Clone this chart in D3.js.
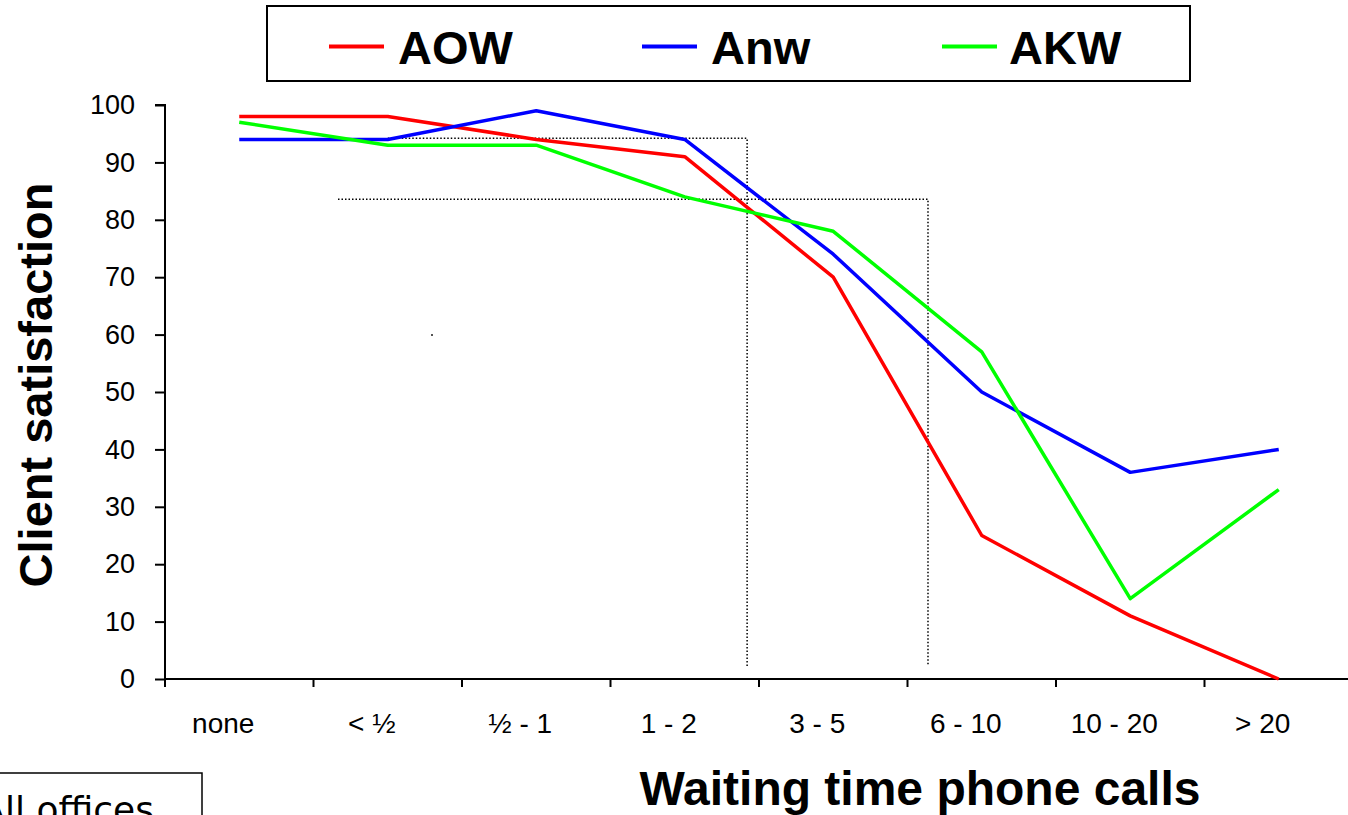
<!DOCTYPE html>
<html>
<head>
<meta charset="utf-8">
<script src="https://cdn.jsdelivr.net/npm/d3@7"></script>
<style>
  body { margin: 0; background: #fff; }
  svg { display: block; font-family: "Liberation Sans", Arial, sans-serif; }
</style>
</head>
<body>
<div id="root"></div>
<script>
// categories (waiting time) and series values
const categories = ["none", "< ½", "½ - 1", "1 - 2", "3 - 5", "6 - 10", "10 - 20", "> 20"];
const aow = [98, 98, 94, 91, 70, 25, 11, 0];
const anw = [94, 94, 99, 94, 74, 50, 36, 40];
const akw = [97, 93, 93, 84, 78, 57, 14, 33];
const seriesNames = ["AOW", "Anw", "AKW"];
const seriesColors = ["#ff0000", "#0000ff", "#00ff00"];
const yTicks = [0, 10, 20, 30, 40, 50, 60, 70, 80, 90, 100];
// dotted guide lines: level, start / end in category units, bottom level
const guideLevels = [94.2, 83.6];
const guideStart = [1.5, 1.165];
const guideEnd = [3.92, 5.138];
const guideBottom = [1.9, 2.4];

const width = 1348, height = 815;

const svg = d3.select("#root").append("svg")
  .attr("width", width)
  .attr("height", height);

const x = d3.scaleBand().domain(categories).range([165, 1353]).padding(0);
const xc = d3.scaleLinear().domain([0, categories.length]).range([165, 1353]);
const y = d3.scaleLinear().domain([0, 100]).range([679, 105]);

// dotted guides
guideLevels.forEach((lv, i) => {
  svg.append("path")
    .attr("d", d3.line()([
      [xc(guideStart[i]), y(lv)],
      [xc(guideEnd[i]), y(lv)],
      [xc(guideEnd[i]), y(guideBottom[i])]
    ]))
    .attr("fill", "none")
    .attr("stroke", "#000")
    .attr("stroke-width", 1.5)
    .attr("stroke-dasharray", "1.5,2");
});

// stray mark seen in the picture
svg.append("rect").attr("x", 431).attr("y", 334).attr("width", 2).attr("height", 2).attr("fill", "#555");

// axes
const yAxis = svg.append("g")
  .attr("transform", "translate(165,0)")
  .call(d3.axisLeft(y).tickValues(yTicks).tickSize(10).tickPadding(20));
yAxis.select(".domain").attr("stroke-width", 2).attr("d", "M-10," + y(100) + "H0V" + y(0));
yAxis.selectAll(".tick line").attr("stroke-width", 2);
yAxis.selectAll(".tick text")
  .attr("font-size", 27)
  .attr("font-family", "Liberation Sans, Arial, sans-serif")
  .attr("fill", "#000");

const xAxis = svg.append("g")
  .attr("transform", "translate(0,679)");
xAxis.append("line")
  .attr("x1", 165).attr("x2", width + 10)
  .attr("stroke", "#000").attr("stroke-width", 2);
xAxis.selectAll(".xt")
  .data(categories)
  .enter().append("line")
  .attr("class", "xt")
  .attr("x1", d => x(d)).attr("x2", d => x(d))
  .attr("y1", 0).attr("y2", 8)
  .attr("stroke", "#000").attr("stroke-width", 2);
xAxis.selectAll(".xl")
  .data(categories)
  .enter().append("text")
  .attr("class", "xl")
  .attr("x", d => x(d) + x.bandwidth() / 2 - 16)
  .attr("y", 54)
  .attr("text-anchor", "middle")
  .attr("font-size", 28)
  .text(d => d);

// series lines
const lineGen = d3.line()
  .x((d, i) => x(categories[i]) + x.bandwidth() / 2)
  .y(d => y(d));

[aow, anw, akw].forEach((s, i) => {
  svg.append("path")
    .datum(s)
    .attr("d", lineGen)
    .attr("fill", "none")
    .attr("stroke", seriesColors[i])
    .attr("stroke-width", 3.5)
    .attr("stroke-linejoin", "round");
});

// titles
svg.append("text")
  .attr("transform", "translate(52,385) rotate(-90)")
  .attr("text-anchor", "middle")
  .attr("font-size", 47)
  .attr("font-weight", "bold")
  .text("Client satisfaction");

svg.append("text")
  .attr("x", 920)
  .attr("y", 805)
  .attr("text-anchor", "middle")
  .attr("font-size", 48)
  .attr("font-weight", "bold")
  .text("Waiting time phone calls");

// legend
const legend = svg.append("g");
legend.append("rect")
  .attr("x", 267).attr("y", 6)
  .attr("width", 923).attr("height", 75)
  .attr("fill", "#fff")
  .attr("stroke", "#000").attr("stroke-width", 2);
const legX = [329, 642, 942];
const legTextX = [398, 711, 1009];
seriesNames.forEach((n, i) => {
  legend.append("line")
    .attr("x1", legX[i]).attr("x2", legX[i] + 55)
    .attr("y1", 46.5).attr("y2", 46.5)
    .attr("stroke", seriesColors[i]).attr("stroke-width", 4);
  legend.append("text")
    .attr("x", legTextX[i]).attr("y", 64)
    .attr("font-size", 47)
    .attr("font-weight", "bold")
    .text(n);
});

// "All offices" box, cut off at the page edge as in the source
svg.append("rect")
  .attr("x", -10).attr("y", 773)
  .attr("width", 212).attr("height", 70)
  .attr("fill", "none")
  .attr("stroke", "#000").attr("stroke-width", 1.5);
svg.append("text")
  .attr("x", 154).attr("y", 822)
  .attr("text-anchor", "end")
  .attr("font-family", "DejaVu Sans, sans-serif")
  .attr("font-size", 36)
  .text("All offices");
</script>
</body>
</html>
